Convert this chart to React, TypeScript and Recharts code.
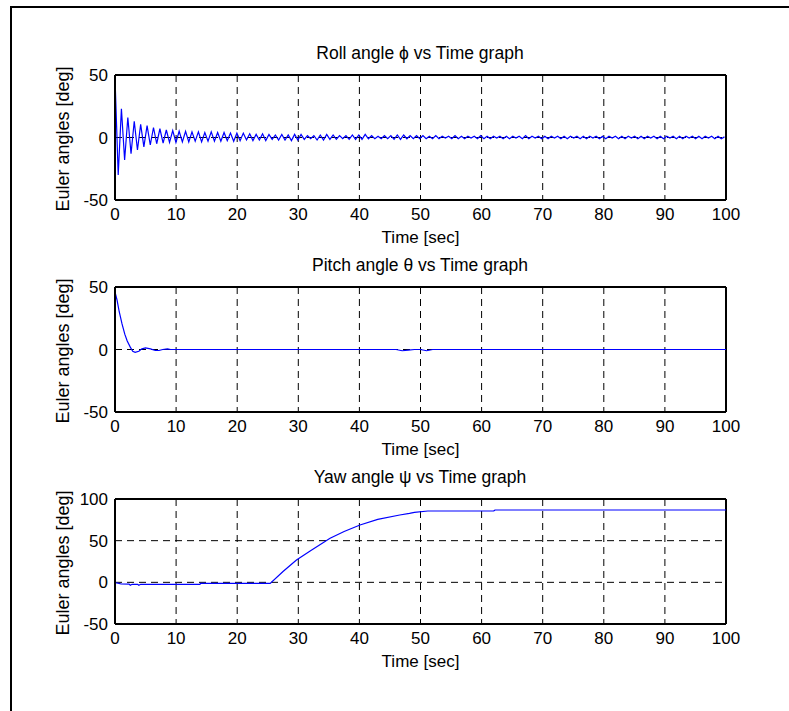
import React from "react";
import { LineChart, Line, XAxis, YAxis, CartesianGrid, ReferenceLine } from "recharts";

const FONT = '"Liberation Sans", Arial, Helvetica, sans-serif';

// axis ticks
const timeTicks = [0, 10, 20, 30, 40, 50, 60, 70, 80, 90, 100];
const timeGrid = [10, 20, 30, 40, 50, 60, 70, 80, 90];
const angleTicks = [-50, 0, 50];
const yawTicks = [-50, 0, 50, 100];

const ROLL_STEP = 0.525;
const rollValues = [
  48, -30, 23, -18, 16, -13, 13, -10, 10.5, -7.5, 9.5, -6, 8, -5, 7, -4.5, 6, -4, 5.5, -4, 5,
  -3.5, 5, -3.5, 4.5, -3, 4.5, -3.5, 4, -3, 4.5, -3, 4, -3, 4, -2.5, 3.5, -3, 3.5,
  -2.5, 3.5, -2, 3, -2.5, 2.5, -2, 3, -2.5, 2.5, -1.5, 2, -2, 2.5, -2, 2, -2.5, 2.5, -2,
  2.5, -1.5, 1.5, -1, 1.5, -2, 2, -2, 2.5, -1.5, 2, -1.5, 1.5, -1, 1.5, -1.5, 2, -1.5, 2,
  -1.5, 2.5, -1, 1.5, -1, 1, -1, 1.5, -1, 1.5, -1.5, 2, -1.5, 2, -1, 1.5, -1, 1.5, -1,
  1.5, -1, 1, -1, 1.5, -1, 1, -0.5, 1, -1, 1.5, -1, 1, -1, 1, -0.5, 1, -1, 1.5, -1,
  1, -1, 1, -0.5, 1, -1, 1, -1, 1, -0.5, 1, -1, 1.5, -1, 1, -0.5, 1, -1, 1, -1,
  1, -0.5, 1, -1, 1, -1, 1, -0.5, 1, -1, 1, -1, 1, -0.5, 1, -1, 1, -1, 1, -0.5,
  1, -1, 1, -1, 1, -0.5, 1, -1, 1, -1, 1, -0.5, 1, -1, 1, -1, 1, -0.5, 1, -1,
  1, -1, 1, -0.5, 1, -1, 1, -1, 1, -0.5, 1, -1, 1, -1, 0.5,
];

// pitch angle
const pitchTime = [0, 0.33, 0.7, 1.15, 1.6, 2.0, 2.5, 2.9, 3.3, 3.9, 4.4, 5.0, 5.8, 6.6, 7.2, 7.8, 8.6, 9.1, 10, 46, 47, 48, 49, 50, 51, 52, 53, 100];
const pitchValues = [46, 39.6, 30, 20.5, 12.3, 6.8, 1.9, -1.4, -2.2, -1.4, 0.5, 1.3, 0.5, -0.8, -0.8, 0, 0.5, 0, 0, 0, -1, -0.5, 0, 0, -1, 0, 0, 0];

// yaw angle
const yawTime = [0, 0.5, 1, 2.3, 2.5, 2.8, 3.7, 3.9, 4.2, 13.9, 14, 25.4, 27.5, 29.7, 32, 35.2, 37.5, 40.1, 43, 46.6, 48.2, 49, 51.2, 62, 62.2, 100];
const yawValues = [-0.5, -1, -2, -2.2, -3.5, -2.3, -2.4, -3.5, -2.4, -2.4, -1.2, -1.2, 13, 26.8, 38, 52.8, 61, 68.8, 75.5, 80.8, 82.8, 84, 85.6, 85.8, 86.8, 86.8];

const rollData = rollValues.map((v, i) => ({ t: i * ROLL_STEP, v }));
const pitchData = pitchTime.map((t, i) => ({ t, v: pitchValues[i] }));
const yawData = yawTime.map((t, i) => ({ t, v: yawValues[i] }));

const tickStyle = { fill: "#000", fontSize: 17, fontFamily: FONT };
const boxLine = { stroke: "#000", strokeWidth: 2 };

interface PlotProps {
  data: { t: number; v: number }[];
  top: number;
  yTicks: number[];
  yDomain: [number, number];
  yGrid: number[];
}

function AnglePlot({ data, top, yTicks, yDomain, yGrid }: PlotProps) {
  return (
    <div style={{ position: "absolute", left: 0, top: top - 10 }}>
      <LineChart width={789} height={165} data={data} margin={{ top: 10, right: 63, bottom: 0, left: 12 }}>
        <CartesianGrid
          stroke="#000"
          strokeDasharray="7 5"
          verticalValues={timeGrid}
          horizontalValues={yGrid}
        />
        <XAxis
          dataKey="t"
          type="number"
          domain={[0, 100]}
          ticks={timeTicks}
          interval={0}
          tickLine={false}
          tickSize={0}
          tickMargin={8}
          height={30}
          tick={tickStyle}
          axisLine={boxLine}
        />
        <YAxis
          type="number"
          domain={yDomain}
          ticks={yTicks}
          interval={0}
          width={103}
          tickLine={false}
          tickSize={0}
          tickMargin={7}
          tick={tickStyle}
          axisLine={boxLine}
        />
        {/* top and right edges of the axes box */}
        <ReferenceLine y={yDomain[1]} {...boxLine} ifOverflow="visible" />
        <ReferenceLine x={100} {...boxLine} ifOverflow="visible" />
        <Line type="linear" dataKey="v" stroke="#0000ff" strokeWidth={1.2} dot={false} isAnimationActive={false} />
      </LineChart>
    </div>
  );
}

const plotTops = [75, 287, 499];
const titles = ["Roll angle ϕ vs Time graph", "Pitch angle θ vs Time graph", "Yaw angle ψ vs Time graph"];

export default function App() {
  return (
    <div style={{ position: "absolute", left: 0, top: 0, width: 789, height: 711, background: "#fff", fontFamily: FONT }}>
      <svg width={789} height={711} style={{ position: "absolute", left: 0, top: 0 }}>
        <path d="M11 711 V7 H789" fill="none" stroke="#000" strokeWidth={2} />
        {plotTops.map((pt, i) => (
          <g key={i} fontFamily={FONT} fill="#000">
            <text x={420} y={pt - 16} fontSize={17.5} textAnchor="middle">{titles[i]}</text>
            <text x={420.5} y={pt + 125 + 43} fontSize={17} textAnchor="middle">Time [sec]</text>
            <text transform={`translate(68.5, ${pt + 64}) rotate(-90)`} fontSize={18} textAnchor="middle">Euler angles [deg]</text>
          </g>
        ))}
      </svg>
      <AnglePlot data={rollData} top={75} yTicks={angleTicks} yDomain={[-50, 50]} yGrid={[0]} />
      <AnglePlot data={pitchData} top={287} yTicks={angleTicks} yDomain={[-50, 50]} yGrid={[0]} />
      <AnglePlot data={yawData} top={499} yTicks={yawTicks} yDomain={[-50, 100]} yGrid={[0, 50]} />
    </div>
  );
}
